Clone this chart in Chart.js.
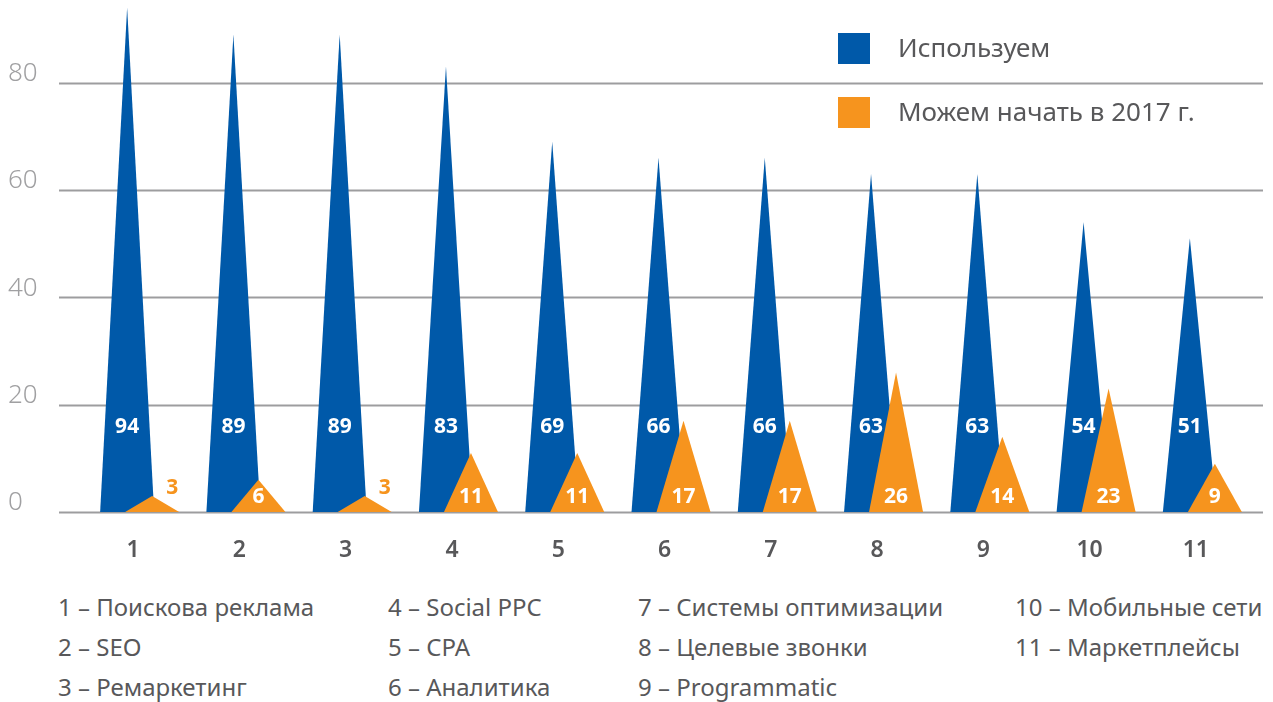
<!DOCTYPE html>
<html lang="ru">
<head>
<meta charset="utf-8">
<title>Используем / Можем начать в 2017 г.</title>
<script src="https://cdn.jsdelivr.net/npm/chart.js@4/dist/chart.umd.min.js"></script>
<style>
  html, body { margin: 0; padding: 0; background: #fff; }
  body { width: 1273px; height: 702px; position: relative; overflow: hidden;
         font-family: "Noto Sans", "Open Sans", "DejaVu Sans", sans-serif; color: #58585a; }
  #wrap { position: absolute; left: 0; top: 0; width: 1273px; height: 570px; }
  .lg { position: absolute; left: 838px; font-size: 26px; line-height: 32px; }
  .lg i { position: absolute; left: 0; top: 0; width: 32px; height: 31px; }
  .lg span { position: absolute; left: 60px; top: -2px; white-space: nowrap; }
  .cats { position: absolute; font-size: 24px; line-height: 40px; white-space: nowrap; top: 587px; }
</style>
</head>
<body>
<div id="wrap"><canvas id="triChart"></canvas></div>

<div class="lg" style="top:33px"><i style="background:#0059a9"></i><span>Используем</span></div>
<div class="lg" style="top:97px"><i style="background:#f6941e"></i><span>Можем начать в 2017 г.</span></div>

<div id="catLegend"></div>

<script>
(function () {
    'use strict';

    // ── Data ──────────────────────────────────────────────────────
    const CATEGORIES = ['1', '2', '3', '4', '5', '6', '7', '8', '9', '10', '11'];
    const CATEGORY_NAMES = [
        'Поискова реклама', 'SEO', 'Ремаркетинг', 'Social PPC', 'CPA', 'Аналитика',
        'Системы оптимизации', 'Целевые звонки', 'Programmatic', 'Мобильные сети', 'Маркетплейсы'
    ];
    const USING = [94, 89, 89, 83, 69, 66, 66, 63, 63, 54, 51];
    const CAN_START = [3, 6, 3, 11, 11, 17, 17, 26, 14, 23, 9];
    const Y_TICKS = [0, 20, 40, 60, 80];

    const BLUE = '#0059a9';
    const ORANGE = '#f6941e';
    const GRID = '#9d9d9f';
    const FONT = '"Noto Sans", "Open Sans", "DejaVu Sans", sans-serif';

    // ── Category legend under the chart ───────────────────────────
    const COL_X = [58, 388, 638, 1015];
    const legendBox = document.getElementById('catLegend');
    for (let c = 0; c < COL_X.length; c++) {
        const col = document.createElement('div');
        col.className = 'cats';
        col.style.left = COL_X[c] + 'px';
        col.innerHTML = CATEGORIES.slice(c * 3, c * 3 + 3)
            .map(function (n, k) { return n + ' – ' + CATEGORY_NAMES[c * 3 + k]; })
            .join('<br>');
        legendBox.appendChild(col);
    }

    // ── Triangles drawn from the bar elements ─────────────────────
    const trianglePlugin = {
        id: 'triangles',
        beforeDatasetsDraw(chart) {
            const ctx = chart.ctx, ys = chart.scales.y;
            ctx.save();
            ctx.strokeStyle = GRID;
            ctx.lineWidth = 2;
            ys.ticks.forEach(function (t) {
                const py = Math.round(ys.getPixelForValue(t.value)) + 0.5;
                ctx.beginPath();
                ctx.moveTo(59, py);
                ctx.lineTo(1263, py);
                ctx.stroke();
            });
            ctx.restore();
        },
        afterDatasetsDraw(chart) {
            const ctx = chart.ctx;
            ctx.save();
            chart.data.datasets.forEach(function (ds, d) {
                const meta = chart.getDatasetMeta(d);
                meta.data.forEach(function (el) {
                    const cx = el.x + ds.triShift, hw = ds.triHalf;
                    ctx.fillStyle = ds.triColor;
                    ctx.beginPath();
                    ctx.moveTo(cx - hw, el.base);
                    ctx.lineTo(cx, el.y);
                    ctx.lineTo(cx + hw, el.base);
                    ctx.closePath();
                    ctx.fill();
                });
            });
            // value labels
            ctx.textAlign = 'center';
            ctx.textBaseline = 'middle';
            ctx.font = 'bold 21px ' + FONT;
            chart.data.datasets.forEach(function (ds, d) {
                const meta = chart.getDatasetMeta(d);
                meta.data.forEach(function (el, i) {
                    const v = ds.data[i];
                    let cx = el.x + ds.triShift, cy = el.base - ds.labelLift;
                    ctx.fillStyle = '#fff';
                    if (d === 1 && v < 5) {
                        ctx.fillStyle = ORANGE;
                        cx += 20;
                        cy = el.base - 24;
                    }
                    ctx.fillText(String(v), cx, cy);
                });
            });
            ctx.restore();
        }
    };

    new Chart(document.getElementById('triChart'), {
        type: 'bar',
        data: {
            labels: CATEGORIES,
            datasets: [
                { label: 'Используем', data: USING, backgroundColor: 'rgba(0,0,0,0)',
                  triColor: BLUE, triShift: -6, triHalf: 27, labelLift: 85 },
                { label: 'Можем начать в 2017 г.', data: CAN_START, backgroundColor: 'rgba(0,0,0,0)',
                  triColor: ORANGE, triShift: 19, triHalf: 27, labelLift: 15 }
            ]
        },
        options: {
            responsive: true,
            maintainAspectRatio: false,
            animation: false,
            grouped: false,
            layout: { padding: { left: 8, right: 24, top: 0, bottom: 0 } },
            plugins: { legend: { display: false }, tooltip: { enabled: false } },
            scales: {
                x: {
                    grid: { display: false, drawTicks: false },
                    border: { display: false },
                    ticks: { color: '#58585a', padding: 25, font: { family: FONT, size: 23, weight: '600' } },
                    afterFit: function (s) { s.height = 58; }
                },
                y: {
                    min: 0, max: 92.5,
                    grid: { display: false, drawTicks: false },
                    border: { display: false },
                    afterBuildTicks: function (s) { s.ticks = Y_TICKS.map(function (v) { return { value: v }; }); },
                    ticks: { color: '#a0a0a2', crossAlign: 'far', labelOffset: -9, padding: 0,
                             font: { family: FONT, size: 26, weight: '300' } },
                    afterFit: function (s) { s.width = 72; }
                }
            }
        },
        plugins: [trianglePlugin]
    });
})();
</script>
</body>
</html>
